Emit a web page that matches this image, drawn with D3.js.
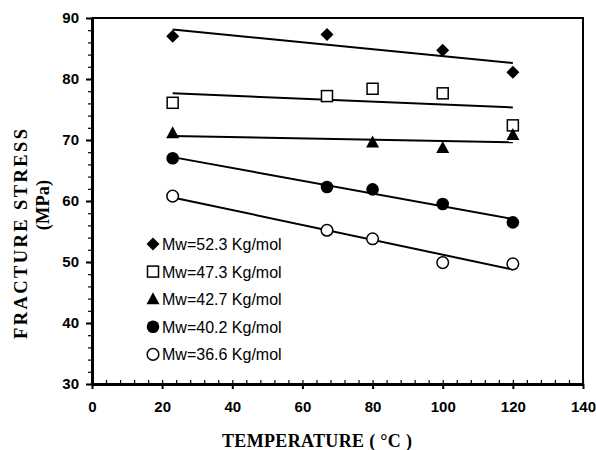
<!DOCTYPE html>
<html><head><meta charset="utf-8">
<script src="https://cdn.jsdelivr.net/npm/d3@7"></script>
<style>
html,body{margin:0;padding:0;background:#fff;}
svg{display:block;}
</style></head>
<body>
<svg id="chart" width="596" height="450"></svg>
<script>
// ---- data ----
const seriesNames = ["Mw=52.3 Kg/mol","Mw=47.3 Kg/mol","Mw=42.7 Kg/mol","Mw=40.2 Kg/mol","Mw=36.6 Kg/mol"];
const seriesSymbols = ["diamond","square","triangle","circleFilled","circleOpen"];
const tempsA = [23, 67, 100, 120];
const stressA = [87.0, 87.3, 84.7, 81.1];
const tempsB = [23, 67, 80, 100, 120];
const stressB = [76.1, 77.2, 78.4, 77.65, 72.4];
const tempsC = [23, 80, 100, 120];
const stressC = [71.1, 69.6, 68.7, 70.8];
const tempsD = [23, 67, 80, 100, 120];
const stressD = [67.0, 62.3, 61.9, 59.5, 56.5];
const tempsE = [23, 67, 80, 100, 120];
const stressE = [60.8, 55.2, 53.8, 49.9, 49.7];
const xTicks = [0, 20, 40, 60, 80, 100, 120, 140];
const yTicks = [30, 40, 50, 60, 70, 80, 90];
const xTitle = "TEMPERATURE ( \u00B0C )";
const yTitle1 = "FRACTURE  STRESS";
const yTitle2 = "(MPa)";

const series = [
  {x: tempsA, y: stressA},
  {x: tempsB, y: stressB},
  {x: tempsC, y: stressC},
  {x: tempsD, y: stressD},
  {x: tempsE, y: stressE}
].map((s, i) => ({name: seriesNames[i], sym: seriesSymbols[i], pts: s.x.map((v, j) => [v, s.y[j]])}));

// ---- layout ----
const svg = d3.select("#chart");
const L = 92, R = 583, T = 18, B = 384;
const x = d3.scaleLinear().domain([0, 140]).range([L, R]);
const y = d3.scaleLinear().domain([30, 90]).range([B, T]);

const tickFont = "'Liberation Sans', Arial, sans-serif";
const titleFont = "'Liberation Serif', 'Times New Roman', serif";

// frame (top and right)
svg.append("path")
  .attr("d", `M${L},${T}H${R}V${B}`)
  .attr("fill", "none").attr("stroke", "#000").attr("stroke-width", 2);

// minor ticks
const gxm = svg.append("g").attr("transform", `translate(0,${B})`)
  .call(d3.axisBottom(x).tickValues(d3.range(0, 141, 4)).tickSize(-4).tickFormat(""));
gxm.select(".domain").remove();
gxm.selectAll("line").attr("stroke-width", 1.2);
const gym = svg.append("g").attr("transform", `translate(${L},0)`)
  .call(d3.axisLeft(y).tickValues(d3.range(30, 91, 2)).tickSize(4).tickFormat(""));
gym.select(".domain").remove();
gym.selectAll("line").attr("stroke-width", 1.2);

// major axes
const gx = svg.append("g").attr("transform", `translate(0,${B})`)
  .call(d3.axisBottom(x).tickValues(xTicks).tickSize(5).tickSizeOuter(0).tickPadding(12).tickFormat(d3.format("d")));
gx.select(".domain").attr("stroke-width", 3);
gx.selectAll("line").attr("stroke-width", 2);
gx.selectAll("text").attr("font-family", tickFont).attr("font-weight", "bold").attr("font-size", 15).attr("fill", "#000");

const gy = svg.append("g").attr("transform", `translate(${L},0)`)
  .call(d3.axisLeft(y).tickValues(yTicks).tickSize(6).tickSizeOuter(0).tickPadding(7).tickFormat(d3.format("d")));
gy.select(".domain").attr("stroke-width", 3);
gy.selectAll("line").attr("stroke-width", 2);
gy.selectAll("text").attr("font-family", tickFont).attr("font-weight", "bold").attr("font-size", 15).attr("fill", "#000");

// axis titles
svg.append("text").attr("x", 317).attr("y", 447).attr("text-anchor", "middle")
  .attr("font-family", titleFont).attr("font-weight", "bold").attr("font-size", 18)
  .attr("textLength", 190).attr("lengthAdjust", "spacing").text(xTitle);
svg.append("text").attr("transform", "translate(27,234) rotate(-90)").attr("text-anchor", "middle")
  .attr("font-family", titleFont).attr("font-weight", "bold").attr("font-size", 18.5)
  .attr("textLength", 210).attr("lengthAdjust", "spacing").text(yTitle1);
svg.append("text").attr("transform", "translate(49,205) rotate(-90)").attr("text-anchor", "middle")
  .attr("font-family", titleFont).attr("font-weight", "bold").attr("font-size", 18.5).text(yTitle2);

// regression lines
function fit(pts) {
  const mx = d3.mean(pts, d => d[0]), my = d3.mean(pts, d => d[1]);
  const sxy = d3.sum(pts, d => (d[0] - mx) * (d[1] - my));
  const sxx = d3.sum(pts, d => (d[0] - mx) ** 2);
  const b = sxy / sxx;
  return v => my + b * (v - mx);
}
const line = d3.line().x(d => x(d[0])).y(d => y(d[1]));
series.forEach(s => {
  const f = fit(s.pts);
  const x0 = d3.min(s.pts, d => d[0]), x1 = d3.max(s.pts, d => d[0]);
  svg.append("path").attr("d", line([[x0, f(x0)], [x1, f(x1)]]))
    .attr("fill", "none").attr("stroke", "#000").attr("stroke-width", 2);
});

// markers
function drawSym(g, sym, cx, cy) {
  if (sym === "diamond") {
    g.append("path").attr("d", `M${cx},${cy-6.5}L${cx+6.5},${cy}L${cx},${cy+6.5}L${cx-6.5},${cy}Z`).attr("fill", "#000");
  } else if (sym === "square") {
    g.append("rect").attr("x", cx-5.5).attr("y", cy-5.5).attr("width", 11).attr("height", 11)
      .attr("fill", "#fff").attr("stroke", "#000").attr("stroke-width", 1.5);
  } else if (sym === "triangle") {
    g.append("path").attr("d", `M${cx},${cy-7}L${cx+6.5},${cy+5}L${cx-6.5},${cy+5}Z`).attr("fill", "#000");
  } else if (sym === "circleFilled") {
    g.append("circle").attr("cx", cx).attr("cy", cy).attr("r", 6.3).attr("fill", "#000");
  } else {
    g.append("circle").attr("cx", cx).attr("cy", cy).attr("r", 5.8).attr("fill", "#fff").attr("stroke", "#000").attr("stroke-width", 1.5);
  }
}
const gm = svg.append("g");
series.forEach(s => s.pts.forEach(p => drawSym(gm, s.sym, x(p[0]), y(p[1]))));

// legend
const lg = svg.append("g");
series.forEach((s, i) => {
  const cy = 244 + i * 27.6;
  drawSym(lg, s.sym, 153, cy);
  lg.append("text").attr("x", 162).attr("y", cy + 6).attr("font-family", tickFont).attr("font-size", 16)
    .attr("fill", "#000").text(s.name);
});
</script>
</body></html>
